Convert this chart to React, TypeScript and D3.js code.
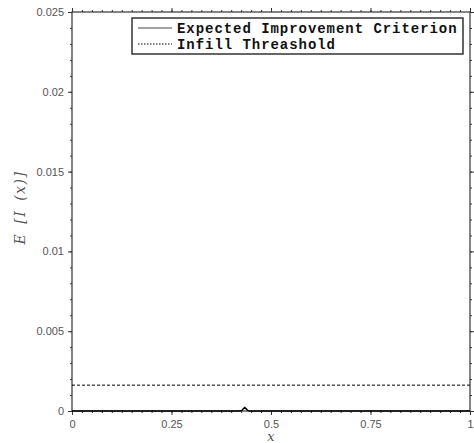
import React, { useRef, useEffect } from "react";
import * as d3 from "d3";

// expected improvement curve (almost zero, tiny bump near x = 0.43)
const xValues = [0, 0.1, 0.2, 0.3, 0.4, 0.422, 0.427, 0.431, 0.434, 0.437, 0.441, 0.446, 0.5, 0.6, 0.7, 0.8, 0.9, 1];
const eiValues = [0, 0, 0, 0, 0, 0, 0.00004, 0.00015, 0.00022, 0.00015, 0.00004, 0, 0, 0, 0, 0, 0, 0];
const infillThreshold = 0.00162;

const xTicks = [0, 0.25, 0.5, 0.75, 1];
const xTickLabels = ["0", "0.25", "0.5", "0.75", "1"];
const yTicks = [0, 0.005, 0.01, 0.015, 0.02, 0.025];
const yTickLabels = ["0", "0.005", "0.01", "0.015", "0.02", "0.025"];
const legendLabels = ["Expected Improvement Criterion", "Infill Threashold"];

const W = 474;
const H = 443;
const margin = { left: 72, right: 4, top: 12, bottom: 32 };

const App = () => {
  const svgRef = useRef<SVGSVGElement>(null);

  useEffect(() => {
    const svg = d3.select(svgRef.current);
    svg.selectAll("*").remove();

    const x = d3.scaleLinear().domain([0, 1]).range([margin.left, W - margin.right]);
    const y = d3.scaleLinear().domain([0, 0.025]).range([H - margin.bottom, margin.top]);

    const axisColor = "#333333";
    const labelColor = "#555555";

    const xMinor = d3.range(0, 1.0001, 0.025);
    const yMinor = d3.range(0, 0.02501, 0.001);

    const styleAxis = (g) => {
      g.select(".domain").remove();
      g.selectAll("line").attr("stroke", axisColor).attr("stroke-width", 1);
    };

    // minor ticks on all four sides
    svg.append("g").attr("transform", `translate(0,${y(0)})`)
      .call(d3.axisBottom(x).tickValues(xMinor).tickSize(2).tickFormat(() => "")).call(styleAxis);
    svg.append("g").attr("transform", `translate(0,${y(0.025)})`)
      .call(d3.axisTop(x).tickValues(xMinor).tickSize(2).tickFormat(() => "")).call(styleAxis);
    svg.append("g").attr("transform", `translate(${x(0)},0)`)
      .call(d3.axisLeft(y).tickValues(yMinor).tickSize(2).tickFormat(() => "")).call(styleAxis);
    svg.append("g").attr("transform", `translate(${x(1)},0)`)
      .call(d3.axisRight(y).tickValues(yMinor).tickSize(2).tickFormat(() => "")).call(styleAxis);

    // major ticks with labels
    const gx = svg.append("g").attr("transform", `translate(0,${y(0)})`)
      .call(d3.axisBottom(x).tickValues(xTicks).tickSize(4).tickPadding(5)
        .tickFormat((d, i) => xTickLabels[i]));
    gx.call(styleAxis);
    gx.selectAll("text").attr("fill", labelColor).style("font", "11px 'Liberation Sans', Arial, sans-serif");

    const gy = svg.append("g").attr("transform", `translate(${x(0)},0)`)
      .call(d3.axisLeft(y).tickValues(yTicks).tickSize(4).tickPadding(4)
        .tickFormat((d, i) => yTickLabels[i]));
    gy.call(styleAxis);
    gy.selectAll("text").attr("fill", labelColor).style("font", "11px 'Liberation Sans', Arial, sans-serif");

    svg.append("g").attr("transform", `translate(0,${y(0.025)})`)
      .call(d3.axisTop(x).tickValues(xTicks).tickSize(4).tickFormat(() => "")).call(styleAxis);
    svg.append("g").attr("transform", `translate(${x(1)},0)`)
      .call(d3.axisRight(y).tickValues(yTicks).tickSize(4).tickFormat(() => "")).call(styleAxis);

    // box
    svg.append("rect")
      .attr("x", x(0)).attr("y", y(0.025))
      .attr("width", x(1) - x(0)).attr("height", y(0) - y(0.025))
      .attr("fill", "none").attr("stroke", axisColor).attr("stroke-width", 1.2);

    // threshold line
    svg.append("line")
      .attr("x1", x(0)).attr("x2", x(1))
      .attr("y1", y(infillThreshold)).attr("y2", y(infillThreshold))
      .attr("stroke", "#000").attr("stroke-width", 1).attr("stroke-dasharray", "3,2");

    // EI curve
    const line = d3.line<number>().x((d, i) => x(xValues[i])).y((d) => y(d));
    svg.append("path").datum(eiValues)
      .attr("d", line).attr("fill", "none").attr("stroke", "#000").attr("stroke-width", 1.5);

    // axis labels
    svg.append("text")
      .attr("x", (x(0) + x(1)) / 2).attr("y", 441).attr("text-anchor", "middle")
      .style("font", "italic 13px 'DejaVu Serif', serif").attr("fill", labelColor).text("x");

    svg.append("text")
      .attr("transform", `translate(25,${(y(0) + y(0.025)) / 2 - 4}) rotate(-90)`)
      .attr("text-anchor", "middle")
      .style("font", "italic 14px 'DejaVu Serif', serif").style("letter-spacing", "1.5px")
      .style("word-spacing", "3px")
      .attr("fill", labelColor)
      .text("E [I (x)]");

    // legend
    const lg = svg.append("g");
    lg.append("rect").attr("x", 132).attr("y", 18).attr("width", 331).attr("height", 36)
      .attr("fill", "#fff").attr("stroke", axisColor).attr("stroke-width", 1.5);
    legendLabels.forEach((lab, i) => {
      const cy = 28 + i * 16;
      lg.append("line").attr("x1", 138).attr("x2", 172).attr("y1", cy).attr("y2", cy)
        .attr("stroke", i === 0 ? "#444" : "#000").attr("stroke-width", 1)
        .attr("stroke-dasharray", i === 0 ? null : "1.5,1.5");
      lg.append("text").attr("x", 177).attr("y", cy).attr("dy", "0.35em")
        .style("font", "bold 14px 'Liberation Mono', 'Courier New', monospace")
        .style("letter-spacing", "0.95px")
        .attr("fill", "#111").text(lab);
    });
  }, []);

  return (
    <svg ref={svgRef} width={W} height={H}
      style={{ position: "absolute", left: 0, top: 0, background: "#fff" }} />
  );
};

export default App;
